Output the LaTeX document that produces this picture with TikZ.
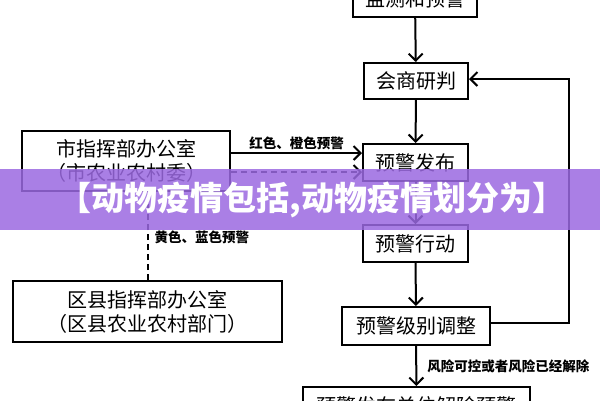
\documentclass[tikz,border=0pt]{standalone}
\usepackage{fontspec}
\newfontfamily\cjk{Noto Sans CJK SC}
\usepackage{xcolor}
\usepackage{tikz}
\usetikzlibrary{arrows.meta, positioning, calc}
\definecolor{bannerpurple}{RGB}{155,105,225}
\tikzset{
  flowbox/.style={
    draw, line width=2pt, align=center, fill=white, inner sep=2pt,
    font=\cjk\fontsize{20}{24}\selectfont, minimum height=36pt
  },
  flowarrow/.style={
    -{Straight Barb[length=7pt, width=14pt]}, line width=2pt
  },
  flowdash/.style={
    line width=2pt, dash pattern=on 6pt off 4pt
  },
  flowlabel/.style={
    font=\cjk\bfseries\fontsize{13.5}{16}\selectfont, inner sep=2pt
  },
  bannertext/.style={
    font=\cjk\bfseries\fontsize{33}{36}\selectfont, text=white
  },
}
\begin{document}
\begin{tikzpicture}[x=1pt, y=-1pt]
  \useasboundingbox (0,0) rectangle (600,400);
  \clip (0,0) rectangle (600,400);

  % Main flow
  \node[flowbox, minimum width=124pt] (jiance) at (415,-1) {监测和预警};
  \node[flowbox, minimum width=104pt] (huishang) at (416,81) {会商研判};
  \node[flowbox, minimum width=105pt, minimum height=37pt] (fabu) at (415.5,162.5) {预警发布};
  \node[flowbox, minimum width=105pt, minimum height=37pt] (xingdong) at (415.5,243.5) {预警行动};
  \node[flowbox, minimum width=148pt, minimum height=38pt] (tiaozheng) at (416,326) {预警级别调整};
  \node[flowbox, minimum width=227pt, minimum height=37pt] (jiechu) at (416.5,405.5) {预警发布单位解除预警};

  % Offices
  \node[flowbox, minimum width=208pt, minimum height=60pt] (shi) at (126,161)
    {市指挥部办公室\\（市农业农村委）};
  \node[flowbox, minimum width=269pt, minimum height=61pt] (quxian) at (147.5,311.5)
    {区县指挥部办公室\\（区县农业农村部门）};

  % Arrows
  \draw[flowarrow] (jiance) -- (huishang);
  \draw[flowarrow] (huishang) -- (fabu);
  \draw[flowarrow] (fabu) -- (xingdong);
  \draw[flowarrow] (xingdong) -- (tiaozheng);
  \draw[flowarrow] (tiaozheng) --
    node[flowlabel, right, xshift=8pt] {风险可控或者风险已经解除} (jiechu);

  % Feedback loop
  \coordinate (loopc) at (569,323);
  \draw[flowarrow] (tiaozheng.east |- loopc) -- (loopc) |- ([yshift=2pt]huishang.east);

  % Warning levels
  \draw[flowarrow] ([yshift=8pt]shi.east) --
    node[flowlabel, above] {红色、橙色预警} ([yshift=8pt]shi.east -| fabu.west);
  \draw[flowarrow, dash pattern=on 6pt off 4pt] ([yshift=-11pt]shi.east) -- ([yshift=-11pt]shi.east -| fabu.west);
  \draw[flowdash] (quxian.north) --
    node[flowlabel, right, xshift=4pt, yshift=-1pt] {黄色、蓝色预警} (quxian.north |- shi.south);

  % Banner
  \fill[bannerpurple, fill opacity=0.85] (0,169) rectangle (600,230);
  \node[bannertext] (banner) at (312,200) {【动物疫情包括,动物疫情划分为】};
\end{tikzpicture}
\end{document}
